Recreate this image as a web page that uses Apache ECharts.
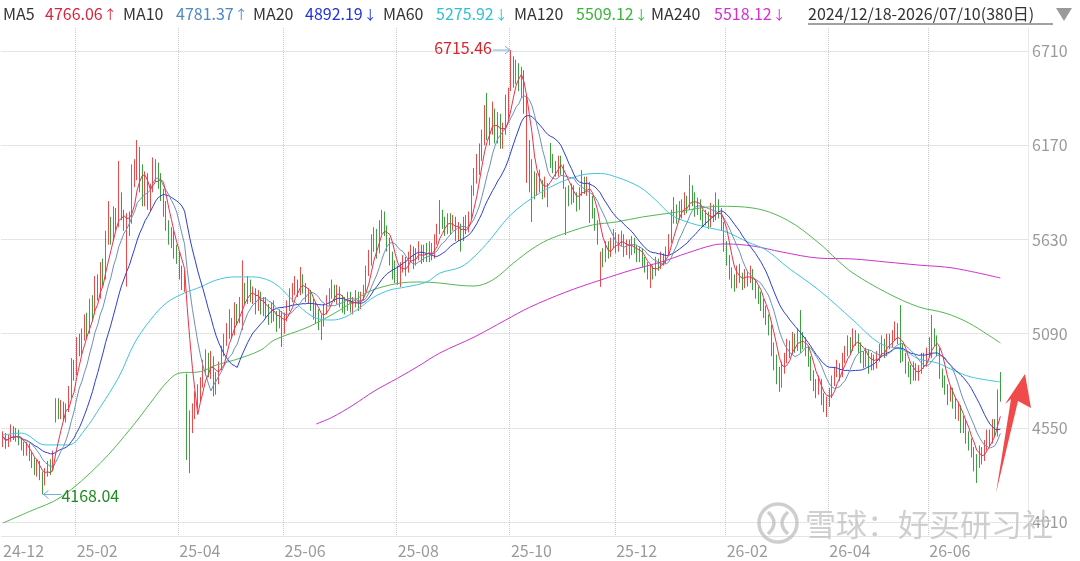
<!DOCTYPE html>
<html><head><meta charset="utf-8">
<script src="https://cdn.jsdelivr.net/npm/echarts@6/dist/echarts.min.js"></script>
<style>html,body{margin:0;padding:0;background:#fff}#c{width:1080px;height:561px}</style>
</head><body><div id="c"></div>
<script>
// ---------- DATA ----------
const startDate = '2024-12-18';
const endDate = '2026-07-10';
const holidays = ['2025-01-01','2025-01-28','2025-01-29','2025-01-30','2025-01-31','2025-02-03','2025-02-04',
  '2025-04-04','2025-05-01','2025-05-02','2025-05-05','2025-06-02','2025-10-01','2025-10-02','2025-10-03',
  '2025-12-31','2026-01-01','2026-01-02','2026-02-16','2026-02-17','2026-02-18','2026-04-03','2026-04-06',
  '2026-05-01','2026-05-04','2026-05-05','2026-06-18','2026-06-19'];
const blankSlots = 10;

// [open, close, low, high]
const candles = [
[4470,4500,4440,4530],[4505,4460,4430,4520],[4455,4490,4440,4510],[4495,4530,4470,4570],[4535,4500,4480,4560],
[4495,4520,4470,4550],[4525,4470,4450,4540],[4465,4450,4420,4490],[4455,4420,4390,4470],[4415,4440,4390,4470],
[4445,4390,4360,4460],[4385,4350,4320,4410],[4355,4310,4280,4380],[4305,4340,4270,4370],[4345,4280,4250,4360],
[4275,4250,4168.04,4300],[4245,4290,4220,4320],[4295,4330,4270,4360],[4335,4310,4280,4370],[4305,4380,4300,4420],
[4600,4690,4580,4720],[4695,4630,4600,4720],[4625,4660,4600,4710],[4665,4610,4590,4700],[4605,4660,4580,4690],
[4665,4740,4640,4790],[4750,4900,4720,4950],[4905,4860,4820,4940],[4880,5030,4850,5070],[5040,5000,4960,5090],
[4990,5080,4970,5120],[5090,5150,5050,5200],[5160,5120,5060,5210],[5110,5250,5090,5290],[5260,5220,5160,5310],
[5210,5380,5200,5420],[5390,5320,5280,5430],[5300,5470,5290,5500],[5480,5420,5360,5520],[5410,5600,5400,5680],
[5620,5700,5600,5850],[5710,5640,5600,5760],[5630,5780,5620,5820],[5790,5720,5680,5810],[5740,5850,5700,6080],
[5880,5760,5740,5900],[5770,5720,5680,5800],[5600,5700,5360,5780],[5690,5730,5650,5790],[5740,5980,5720,6060],
[5990,6010,5930,6090],[5990,6150,5970,6200],[6140,5950,5900,6160],[5980,5900,5820,6060],[5900,5980,5820,6020],
[5990,5850,5800,6010],[5870,5900,5790,5950],[5910,6060,5900,6100],[6000,6020,5960,6090],[6030,5990,5920,6070],
[5990,5900,5850,6010],[5910,5820,5760,5920],[5830,5700,5680,5850],[5710,5640,5600,5740],[5620,5660,5580,5700],
[5670,5560,5520,5680],[5570,5520,5490,5600],[5530,5450,5400,5560],[5430,5380,5340,5480],[5370,5400,5330,5450],
[4850,4450,4366,4860],[4420,4600,4290,4650],[4580,4620,4520,4690],[4630,4720,4600,4760],[4720,4740,4660,4800],
[4750,4800,4700,4840],[4810,4900,4780,4940],[4890,4950,4850,5000],[4960,4880,4840,4980],[4870,4960,4830,4990],
[4940,4780,4730,4960],[4790,4830,4740,4870],[4820,4900,4800,4930],[4910,4990,4880,5020],[5000,5050,4960,5090],
[5060,5080,5020,5150],[5090,5140,5060,5230],[5150,5100,5060,5180],[5100,5230,5080,5270],[5240,5200,5140,5260],
[5190,5260,5150,5300],[5250,5340,5111,5510],[5350,5290,5260,5380],[5280,5380,5260,5420],[5390,5300,5270,5400],
[5300,5320,5260,5360],[5330,5250,5200,5350],[5240,5300,5220,5340],[5310,5240,5200,5330],[5230,5270,5190,5300],
[5270,5220,5180,5300],[5230,5180,5140,5260],[5170,5240,5150,5270],[5250,5190,5160,5280],[5190,5150,5100,5220],
[5140,5200,5120,5230],[5210,5120,5013,5220],[5110,5180,5090,5210],[5190,5250,5160,5280],[5250,5300,5220,5350],
[5300,5340,5270,5380],[5350,5380,5310,5420],[5390,5330,5300,5400],[5330,5420,5310,5472],[5410,5360,5320,5430],
[5350,5300,5270,5380],[5290,5320,5260,5350],[5330,5260,5220,5340],[5250,5230,5170,5290],[5240,5200,5150,5270],
[5190,5180,5110,5230],[5170,5150,5053,5200],[5160,5230,5130,5260],[5240,5280,5200,5310],[5290,5320,5250,5350],
[5330,5350,5290,5400],[5340,5300,5270,5370],[5290,5330,5260,5370],[5340,5280,5240,5360],[5270,5260,5210,5310],
[5260,5250,5200,5300],[5240,5300,5220,5330],[5310,5240,5210,5330],[5240,5270,5200,5300],[5280,5290,5240,5340],
[5300,5260,5220,5330],[5250,5300,5230,5330],[5300,5340,5280,5370],[5350,5450,5330,5480],[5460,5520,5420,5570],
[5520,5600,5480,5660],[5610,5650,5560,5700],[5660,5580,5520,5690],[5570,5700,5550,5740],[5710,5760,5660,5799],
[5770,5690,5650,5790],[5680,5620,5560,5710],[5620,5520,5480,5640],[5510,5480,5400,5560],[5480,5440,5380,5510],
[5430,5420,5370,5480],[5400,5480,5358,5500],[5490,5500,5440,5540],[5500,5460,5420,5530],[5460,5530,5440,5560],
[5540,5560,5500,5600],[5570,5500,5460,5590],[5500,5540,5480,5580],[5550,5580,5510,5620],[5580,5520,5490,5600],
[5520,5560,5500,5600],[5570,5530,5500,5610],[5530,5580,5500,5620],[5590,5540,5510,5610],[5540,5620,5520,5660],
[5630,5680,5600,5720],[5690,5760,5660,5856],[5770,5720,5690,5800],[5720,5690,5650,5760],[5690,5740,5660,5780],
[5750,5700,5660,5780],[5700,5730,5680,5770],[5740,5660,5620,5760],[5650,5700,5620,5730],[5700,5640,5560,5720],
[5640,5720,5620,5760],[5730,5690,5660,5770],[5690,5750,5670,5790],[5760,5900,5740,5940],[5910,5980,5880,6040],
[5990,6050,5950,6120],[6060,6120,6000,6180],[6130,6200,6080,6260],[6210,6310,6170,6400],[6320,6280,6200,6470],
[6270,6250,6170,6330],[6260,6350,6230,6420],[6360,6230,6180,6380],[6220,6300,6180,6360],[6310,6190,6150,6350],
[6180,6260,6150,6300],[6270,6340,6230,6460],[6350,6450,6320,6500],[6500,6620,6480,6715.46],[6640,6560,6500,6680],
[6550,6600,6520,6660],[6610,6520,6480,6640],[6530,6580,6440,6620],[6570,6400,6350,6600],[6050,6160,5954,6450],
[6150,6080,5900,6200],[6070,6000,5730,6090],[5990,5900,5860,6020],[5900,5980,5880,6010],[5990,5940,5900,6030],
[5940,5900,5860,5970],[5890,5960,5870,5990],[5840,5900,5815,5953],[6150,6090,6040,6183],[6080,6060,6010,6120],
[6050,6020,5990,6080],[6010,6080,5990,6110],[6090,6040,6000,6110],[6040,5960,5920,6060],[5760,5900,5655,5930],
[5900,5860,5820,5940],[5850,5920,5830,5950],[5920,5880,5840,5940],[5880,5830,5790,5900],[5820,5900,5800,5930],
[5910,5960,5880,6028],[5960,5920,5890,5990],[5920,5950,5880,5990],[5940,5870,5724,5960],[5860,5790,5750,5880],
[5790,5720,5680,5810],[5720,5640,5600,5740],[5400,5540,5358,5560],[5540,5520,5470,5580],[5520,5580,5500,5620],
[5590,5560,5520,5620],[5560,5600,5530,5640],[5610,5650,5580,5690],[5650,5580,5550,5670],[5580,5620,5560,5660],
[5630,5640,5590,5680],[5640,5570,5530,5660],[5560,5600,5540,5630],[5600,5560,5520,5630],[5560,5610,5540,5650],
[5610,5580,5550,5640],[5570,5530,5500,5600],[5530,5560,5500,5590],[5560,5510,5470,5580],[5500,5480,5440,5530],
[5480,5440,5400,5500],[5430,5460,5352,5490],[5460,5430,5400,5480],[5430,5500,5420,5530],[5500,5480,5450,5520],
[5480,5530,5460,5560],[5530,5510,5480,5550],[5500,5560,5490,5590],[5560,5620,5540,5660],[5630,5750,5610,5800],
[5760,5800,5720,5873],[5800,5760,5720,5830],[5760,5820,5740,5850],[5830,5790,5750,5860],[5790,5850,5770,5900],
[5860,5820,5780,5880],[5830,5900,5800,5999],[5900,5860,5820,5940],[5870,5800,5760,5900],[5800,5830,5770,5870],
[5840,5780,5740,5860],[5770,5740,5700,5800],[5740,5770,5710,5800],[5770,5720,5690,5790],[5720,5800,5700,5840],
[5810,5760,5730,5830],[5760,5830,5740,5900],[5830,5790,5750,5860],[5790,5720,5680,5810],[5720,5600,5560,5730],
[5600,5520,5480,5620],[5520,5450,5400,5540],[5450,5400,5350,5470],[5400,5380,5330,5430],[5370,5450,5350,5480],
[5450,5420,5380,5490],[5420,5380,5340,5440],[5370,5430,5350,5460],[5430,5400,5360,5450],[5400,5440,5380,5480],
[5440,5380,5340,5460],[5380,5330,5290,5400],[5330,5300,5260,5360],[5300,5260,5220,5330],[5260,5220,5180,5290],
[5220,5180,5140,5250],[5180,5120,5080,5200],[5120,5000,4960,5140],[4990,4950,4880,5040],[4950,4880,4800,4970],
[4880,4820,4756,4900],[4820,4900,4780,4930],[4900,4940,4860,4980],[4950,5020,4920,5060],[5010,5000,4950,5050],
[4990,5060,4970,5100],[5060,5010,4980,5090],[5010,5080,4990,5120],[5100,5050,4980,5225],[5050,5040,5000,5100],
[5040,5000,4960,5070],[5000,4940,4900,5020],[4940,4860,4820,4960],[4860,4800,4760,4880],[4800,4760,4720,4830],
[4760,4820,4740,4850],[4810,4720,4680,4830],[4720,4680,4640,4750],[4660,4700,4612,4730],[4700,4740,4670,4780],
[4740,4820,4720,4850],[4820,4860,4790,4900],[4860,4900,4840,4940],[4900,4860,4820,4920],[4860,4950,4840,4980],
[4950,4980,4920,5020],[4980,5040,4960,5080],[5040,5010,4970,5070],[5010,5080,4990,5120],[5080,5060,5020,5110],
[5060,5020,4980,5090],[5020,4960,4920,5040],[4960,4930,4890,4990],[4930,4980,4900,5010],[4980,4900,4860,5000],
[4900,4950,4880,4980],[4950,4920,4880,4970],[4920,4960,4890,4990],[4960,5000,4930,5030],[5000,5040,4970,5080],
[5040,4980,4950,5060],[4980,5060,4960,5090],[5060,5030,5000,5090],[5030,5080,5010,5110],[5080,5120,5050,5160],
[5120,5060,5030,5150],[5100,5000,4922,5254],[5000,4960,4930,5030],[4960,4900,4860,4980],[4900,4880,4840,4930],
[4880,4840,4800,4910],[4840,4900,4820,4930],[4900,4850,4820,4920],[4850,4880,4820,4910],[4880,4950,4860,4980],
[4950,4920,4890,4980],[4920,4980,4900,5010],[4980,5030,4950,5070],[4960,5100,4950,5197],[5080,5060,5020,5120],
[5060,5000,4960,5080],[5000,4870,4830,5010],[4870,4820,4780,4890],[4820,4780,4740,4850],[4780,4720,4680,4800],
[4720,4760,4700,4790],[4760,4700,4660,4780],[4700,4640,4600,4720],[4640,4660,4590,4700],[4660,4560,4520,4680],
[4560,4580,4520,4620],[4580,4500,4460,4600],[4500,4460,4420,4530],[4460,4420,4380,4490],[4420,4380,4300,4440],
[4380,4350,4234,4400],[4340,4420,4320,4450],[4420,4380,4340,4440],[4380,4450,4360,4480],[4450,4500,4420,4540],
[4500,4480,4440,4540],[4480,4560,4460,4600],[4560,4540,4500,4600],[4540,4740,4500,4770],[4850,4760,4700,4870]
];

// moving averages: [day index, value]
const ma60Pts = [[0,4509],[7,4520],[16,4452],[25,4452],[31,4537],[37,4670],[44,4841],[50,5036],[56,5168],[62,5265],[69,5323],[75,5357],[81,5397],[88,5415],[95,5415],[103,5380],[110,5283],[118,5185],[125,5168],[130,5185],[136,5243],[141,5300],[147,5340],[153,5357],[161,5386],[166,5437],[174,5472],[179,5530],[185,5627],[191,5740],[195,5799],[201,5867],[208,5930],[214,5971],[222,6005],[227,6008],[233,5988],[242,5930],[248,5856],[254,5770],[260,5730],[267,5701],[275,5672],[283,5615],[290,5569],[298,5472],[310,5340],[323,5168],[333,5036],[342,4996],[348,4945],[355,4922],[361,4881],[368,4841],[379,4813]];
const ma120Pts = [[0,4005],[10,4070],[22,4153],[37,4348],[49,4555],[56,4692],[62,4807],[67,4864],[75,4872],[81,4910],[88,4939],[98,4996],[103,5053],[116,5128],[128,5225],[138,5323],[144,5357],[151,5380],[158,5386],[166,5380],[174,5366],[179,5363],[186,5397],[194,5495],[201,5575],[207,5627],[214,5667],[224,5713],[233,5730],[243,5759],[254,5782],[265,5810],[272,5820],[285,5810],[298,5741],[310,5610],[317,5512],[323,5437],[336,5323],[348,5243],[358,5208],[367,5151],[379,5036]];
const ma240Pts = [[119,4572],[125,4610],[133,4680],[141,4760],[150,4835],[158,4905],[166,4979],[179,5070],[191,5168],[200,5240],[214,5329],[227,5397],[239,5455],[250,5500],[260,5552],[270,5598],[275,5604],[285,5592],[296,5558],[310,5523],[323,5518],[336,5500],[348,5483],[361,5466],[379,5409]];

const yTicks = [4010, 4550, 5090, 5630, 6170, 6710];
const maNames = ['MA5','MA10','MA20','MA60','MA120','MA240'];
const maLegendValues = ['4766.06','4781.37','4892.19','5275.92','5509.12','5518.12'];
const maLegendArrows = ['↑','↑','↓','↓','↓','↓'];
const rangeText = '2024/12/18-2026/07/10(380日)';
const highLabel = {index: 193, value: 6715.46, text: '6715.46'};
const lowLabel = {index: 15, value: 4168.04, text: '4168.04'};
const watermarkText = '雪球：好买研习社';

// ---------- STYLE ----------
const maColors = ['#e8334a','#6e8fbb','#2b3fd6','#3fc6de','#52b852','#cc33cc'];
const legendValColors = ['#d9263d','#4f88c6','#2233dd','#2fbfd6','#3ab53a','#d22fd2'];
const legendX = [[3,45],[123,176],[253,305],[383,436],[514,576],[651,714]];

// ---------- BUILD ----------
function fmt(d){return d.toISOString().slice(0,10);}
const dates = [];
{
  const hs = new Set(holidays);
  let d = new Date(startDate+'T00:00:00Z'); const e = new Date(endDate+'T00:00:00Z');
  while (d <= e) { const wd = d.getUTCDay(); const s = fmt(d);
    if (wd !== 0 && wd !== 6 && !hs.has(s)) dates.push(s);
    d = new Date(d.getTime()+86400000); }
}
const cats = dates.concat(new Array(blankSlots).fill(''));
const tickIdx = new Set([0]);
for (let i=1;i<dates.length;i++){
  const m = +dates[i].slice(5,7);
  if (dates[i].slice(0,7)!==dates[i-1].slice(0,7) && m%2===0) tickIdx.add(i);
}
const closes = candles.map(c=>c[1]);
function ma(n){ return closes.map((_,i)=>{ const s=Math.max(0,i-n+1); let t=0; for(let k=s;k<=i;k++) t+=closes[k]; return +(t/(i-s+1)).toFixed(2);}); }

const chart = echarts.init(document.getElementById('c'), null, {renderer:'canvas'});
const FONT = '"Noto Sans CJK SC","Noto Sans",sans-serif';
const lineS = (name, data, color, z) => ({name, type:'line', data, symbol:'none', smooth: data[0] && Array.isArray(data[0]) ? 0.35 : false,
  lineStyle:{width:1,color}, itemStyle:{color}, z: z||3, silent:true});

chart.setOption({
  animation:false,
  backgroundColor:'#fff',
  grid:{left:0, right:52, top:28, bottom:25, containLabel:false},
  xAxis:{type:'category', data:cats, boundaryGap:true,
    axisLine:{show:true, lineStyle:{color:'#e4e4e4'}}, axisTick:{show:false},
    axisLabel:{interval:(i)=>tickIdx.has(i), align:'left', margin:7, color:'#9a9a9a', fontSize:16, fontFamily:FONT,
      formatter:(v)=> v ? v.slice(2,7) : ''},
    splitLine:{show:true, interval:(i)=>tickIdx.has(i) && i>0, lineStyle:{type:'dotted', color:'#c9c9c9'}}},
  yAxis:{type:'value', position:'right', min:3930, max:6842, scale:true,
    axisLine:{show:true, lineStyle:{color:'#e8e8e8'}}, axisTick:{show:false, customValues:yTicks},
    axisLabel:{customValues:yTicks, color:'#9a9a9a', fontSize:16, fontFamily:FONT, margin:4, formatter:(v)=>String(Math.round(v))},
    splitLine:{show:true, lineStyle:{type:'dotted', color:'#c9c9c9'}}},
  series:[
    {name:'K', type:'candlestick', data:candles, barWidth:1.2, z:2, silent:true,
      itemStyle:{color:'#f36b6b', color0:'#5cb05c', borderColor:'#ee4a4a', borderColor0:'#3f9e3f', borderWidth:1}},
    lineS('MA240', ma240Pts, maColors[5]),
    lineS('MA120', ma120Pts, maColors[4]),
    lineS('MA60', ma60Pts, maColors[3]),
    lineS('MA20', ma(20), maColors[2], 4),
    lineS('MA10', ma(10), maColors[1], 4),
    lineS('MA5', ma(5), maColors[0], 5)
  ]
});

// ---------- OVERLAY ----------
const g = [];
const T = (x,y,text,fill,size,align,extra) => Object.assign({type:'text', x, y, z:50,
  style:{text, fill, font:(size||16)+'px '+FONT, textAlign:align||'left', textVerticalAlign:'middle'}}, extra||{});
const mctx = document.createElement('canvas').getContext('2d');
mctx.font = '16px '+FONT;
maNames.forEach((n,i)=>{
  g.push(T(legendX[i][0],14,n,'#333'));
  g.push(T(legendX[i][1],14,maLegendValues[i],legendValColors[i]));
  const w = mctx.measureText(maLegendValues[i]).width;
  g.push(T(legendX[i][1]+w+1,14,maLegendArrows[i],legendValColors[i],13,'left',{style:{text:maLegendArrows[i], fill:legendValColors[i],
    font:'13px "Noto Sans CJK SC",sans-serif', textAlign:'left', textVerticalAlign:'middle'}}));
});
g.push(T(808,14,rangeText,'#333'));
g.push({type:'line', z:50, shape:{x1:808,y1:24,x2:1053,y2:24}, style:{stroke:'#444',lineWidth:1}});
g.push({type:'polygon', z:50, shape:{points:[[1056,8],[1072,8],[1064,21]]}, style:{fill:'#9a9a9a'}});

const hp = chart.convertToPixel({gridIndex:0},[highLabel.index, highLabel.value]);
g.push({type:'line', z:50, shape:{x1:hp[0]-18,y1:hp[1],x2:hp[0]-1,y2:hp[1]}, style:{stroke:'#79acd8',lineWidth:1}});
g.push({type:'polyline', z:50, shape:{points:[[hp[0]-6,hp[1]-4],[hp[0]-1,hp[1]],[hp[0]-6,hp[1]+4]]}, style:{stroke:'#79acd8',lineWidth:1,fill:null}});
g.push(T(hp[0]-19,hp[1]-2,highLabel.text,'#d8242c',16,'right'));
const lp = chart.convertToPixel({gridIndex:0},[lowLabel.index, lowLabel.value]);
g.push({type:'line', z:50, shape:{x1:lp[0]+1,y1:lp[1],x2:lp[0]+19,y2:lp[1]}, style:{stroke:'#79acd8',lineWidth:1}});
g.push({type:'polyline', z:50, shape:{points:[[lp[0]+6,lp[1]-4],[lp[0]+1,lp[1]],[lp[0]+6,lp[1]+4]]}, style:{stroke:'#79acd8',lineWidth:1,fill:null}});
g.push(T(lp[0]+19,lp[1]+1,lowLabel.text,'#1f8a1f',16,'left'));

// red hand-drawn style arrow
g.push({type:'polygon', z:60, shape:{points:[[1025,374],[1031,408],[1018,401],[996,493],[1011,399],[1005,404]]}, style:{fill:'#f04a4a'}});

// watermark
const wm = 'rgba(185,185,185,0.7)';
g.push({type:'circle', z:70, shape:{cx:778,cy:523,r:19}, style:{fill:null, stroke:wm, lineWidth:3.5}});
g.push({type:'bezierCurve', z:70, shape:{x1:768,y1:512,cpx1:780,cpy1:523,x2:768,y2:534}, style:{fill:null, stroke:wm, lineWidth:3.5}});
g.push({type:'bezierCurve', z:70, shape:{x1:788,y1:512,cpx1:776,cpy1:523,x2:788,y2:534}, style:{fill:null, stroke:wm, lineWidth:3.5}});
g.push({type:'text', x:805, y:524, z:70, style:{text:watermarkText, fill:'rgba(175,175,175,0.6)', font:'31px '+FONT,
  textAlign:'left', textVerticalAlign:'middle', stroke:'rgba(255,255,255,0.7)', lineWidth:1}});

chart.setOption({graphic:g});
</script></body></html>
